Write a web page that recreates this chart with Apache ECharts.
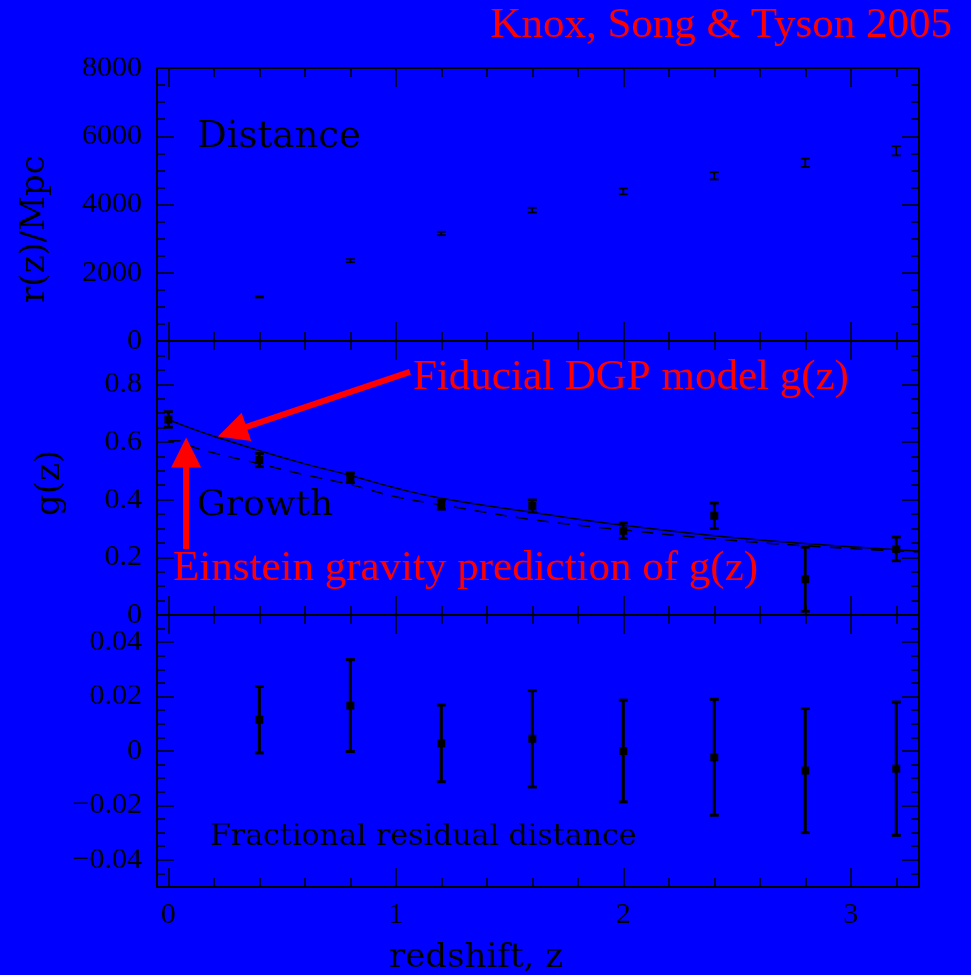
<!DOCTYPE html>
<html>
<head>
<meta charset="utf-8">
<script src="https://cdn.jsdelivr.net/npm/echarts@6/dist/echarts.min.js"></script>
<style>
  html, body { margin: 0; padding: 0; background: #0000ff; }
  #chart { width: 971px; height: 975px; }
</style>
</head>
<body>
<div id="chart"></div>
<script>
// Binned redshifts of the distance and residual measurements
const redshift = [0.4, 0.8, 1.2, 1.6, 2.0, 2.4, 2.8, 3.2];
// Comoving distance r(z) in Mpc with 1-sigma errors
const distance = [1291, 2353, 3151, 3834, 4383, 4840, 5222, 5574];
const distanceErr = [15, 45, 50, 70, 85, 105, 120, 135];
// Growth factor g(z) measurements
const growthZ = [0, 0.4, 0.8, 1.2, 1.6, 2.0, 2.4, 2.8, 3.2];
const growth = [0.678, 0.537, 0.476, 0.383, 0.378, 0.292, 0.344, 0.124, 0.229];
const growthErr = [0.027, 0.023, 0.017, 0.016, 0.021, 0.027, 0.044, 0.111, 0.041];
// Fractional residual of the distance
const residual = [0.0115, 0.0167, 0.0028, 0.0045, 0.0, -0.0023, -0.0072, -0.0065];
const residualErr = [0.0122, 0.0169, 0.0141, 0.0177, 0.0187, 0.0213, 0.0228, 0.0245];
// Model curves
const dgpZ = [0, 0.1, 0.2, 0.4, 0.6, 0.8, 1.0, 1.2, 1.6, 2.0, 2.4, 2.8, 3.2, 3.3];
const dgpGrowth = [0.678, 0.647, 0.620, 0.570, 0.524, 0.484, 0.440, 0.405, 0.356, 0.311, 0.275, 0.248, 0.226, 0.222];
const gravityZ = [0, 0.05, 0.1, 0.2, 0.4, 0.6, 0.8, 1.0, 1.2, 1.6, 2.0, 2.4, 2.8, 3.2, 3.3];
const gravityGrowth = [0.604, 0.604, 0.585, 0.562, 0.524, 0.486, 0.452, 0.410, 0.382, 0.331, 0.295, 0.264, 0.240, 0.222, 0.219];

// Tick values
const zMajor = [0, 1, 2, 3];
const zMinor = [0.2, 0.4, 0.6, 0.8, 1.2, 1.4, 1.6, 1.8, 2.2, 2.4, 2.6, 2.8, 3.2];
const distanceMajor = [0, 2000, 4000, 6000, 8000];
const distanceMinor = [500, 1000, 1500, 2500, 3000, 3500, 4500, 5000, 5500, 6500, 7000, 7500];
const growthMajor = [0, 0.2, 0.4, 0.6, 0.8];
const growthMinor = [0.05, 0.1, 0.15, 0.25, 0.3, 0.35, 0.45, 0.5, 0.55, 0.65, 0.7, 0.75, 0.85, 0.9];
const residualMajor = [-0.04, -0.02, 0, 0.02, 0.04];
const residualMinor = [-0.045, -0.035, -0.03, -0.025, -0.015, -0.01, -0.005, 0.005, 0.01, 0.015, 0.025, 0.03, 0.035, 0.045];

// Annotation arrows (data coordinates of the growth panel)
const arrowFrom = [[1.062, 0.843], [0.078, 0.229]];
const arrowTo = [[0.218, 0.619], [0.078, 0.6155]];

const BLACK = '#000000';
const RED = '#ff0000';
const NUM_FONT = 'Liberation Serif';
const LABEL_FONT = 'DejaVu Serif';

const grids = [
  { left: 157, width: 762, top: 68, height: 273 },
  { left: 157, width: 762, top: 341, height: 274 },
  { left: 157, width: 762, top: 615, height: 272 }
];

const panels = [
  { min: 0, max: 8000, major: distanceMajor, minor: distanceMinor,
    fmt: v => String(Math.round(v)) },
  { min: 0, max: 0.95, major: growthMajor, minor: growthMinor,
    fmt: v => (Math.abs(v) < 1e-9 ? '0' : v.toFixed(1)) },
  { min: -0.05, max: 0.05, major: residualMajor, minor: residualMinor,
    fmt: v => (Math.abs(v) < 1e-9 ? '0' : (v < 0 ? '\u2212' : '') + Math.abs(v).toFixed(2)) }
];

function xAxisDef(g, position, ticks, len, showLine, showLabels) {
  return {
    type: 'value', gridIndex: g, position: position, min: -0.05, max: 3.3,
    axisLine: { show: showLine, onZero: false, lineStyle: { color: BLACK, width: 2 } },
    axisTick: { show: true, inside: true, length: len, customValues: ticks,
      lineStyle: { color: BLACK, width: 1.5 } },
    axisLabel: { show: showLabels, customValues: ticks, margin: 13, color: BLACK,
      fontFamily: NUM_FONT, fontSize: 30, formatter: v => String(v) },
    splitLine: { show: false }, minorTick: { show: false }
  };
}

function yAxisDef(g, position, ticks, len, showLine, showLabels) {
  const p = panels[g];
  return {
    type: 'value', gridIndex: g, position: position, min: p.min, max: p.max,
    axisLine: { show: showLine, onZero: false, lineStyle: { color: BLACK, width: 2 } },
    axisTick: { show: true, inside: true, length: len, customValues: ticks,
      lineStyle: { color: BLACK, width: 1.5 } },
    axisLabel: { show: showLabels, customValues: ticks, margin: 15, color: BLACK,
      fontFamily: NUM_FONT, fontSize: 30, formatter: p.fmt },
    splitLine: { show: false }, minorTick: { show: false }
  };
}

const xAxes = [];
const yAxes = [];
for (let g = 0; g < 3; g++) {
  const p = panels[g];
  xAxes.push(xAxisDef(g, 'bottom', zMajor, 19, true, g === 2));
  xAxes.push(xAxisDef(g, 'bottom', zMinor, 9, false, false));
  xAxes.push(xAxisDef(g, 'top', zMajor, 19, true, false));
  xAxes.push(xAxisDef(g, 'top', zMinor, 9, false, false));
  yAxes.push(yAxisDef(g, 'left', p.major, 17, true, true));
  yAxes.push(yAxisDef(g, 'left', p.minor, 8, false, false));
  yAxes.push(yAxisDef(g, 'right', p.major, 17, true, false));
  yAxes.push(yAxisDef(g, 'right', p.minor, 8, false, false));
}

function errorBarRenderer(capHalf, lineW, square) {
  return function (params, api) {
    const x = api.value(0), y = api.value(1), e = api.value(2);
    const hi = api.coord([x, y + e]);
    const lo = api.coord([x, y - e]);
    const mid = api.coord([x, y]);
    const st = { stroke: BLACK, lineWidth: lineW, fill: null };
    const children = [
      { type: 'line', shape: { x1: hi[0], y1: hi[1], x2: lo[0], y2: lo[1] }, style: st },
      { type: 'line', shape: { x1: hi[0] - capHalf, y1: hi[1], x2: hi[0] + capHalf, y2: hi[1] }, style: st },
      { type: 'line', shape: { x1: lo[0] - capHalf, y1: lo[1], x2: lo[0] + capHalf, y2: lo[1] }, style: st }
    ];
    if (square) {
      children.push({ type: 'rect',
        shape: { x: mid[0] - square / 2, y: mid[1] - square / 2, width: square, height: square },
        style: { fill: BLACK } });
    }
    return { type: 'group', children: children };
  };
}

function arrowRenderer(params, api) {
  const p0 = api.coord([api.value(0), api.value(1)]);
  const p1 = api.coord([api.value(2), api.value(3)]);
  const dx = p1[0] - p0[0], dy = p1[1] - p0[1];
  const L = Math.hypot(dx, dy);
  const ux = dx / L, uy = dy / L;
  const head = 30, half = 15;
  const bx = p1[0] - ux * head, by = p1[1] - uy * head;
  return {
    type: 'group',
    children: [
      { type: 'line', shape: { x1: p0[0], y1: p0[1], x2: bx + ux * 3, y2: by + uy * 3 },
        style: { stroke: RED, lineWidth: 6 } },
      { type: 'polygon',
        shape: { points: [[p1[0], p1[1]], [bx - uy * half, by + ux * half], [bx + uy * half, by - ux * half]] },
        style: { fill: RED } }
    ]
  };
}

const zip3 = (a, b, c) => a.map((v, i) => [v, b[i], c[i]]);
const zip2 = (a, b) => a.map((v, i) => [v, b[i]]);

const series = [
  { type: 'custom', name: 'distance', xAxisIndex: 0, yAxisIndex: 0, z: 5,
    renderItem: errorBarRenderer(4.5, 1.8, 0),
    data: zip3(redshift, distance, distanceErr) },
  { type: 'line', name: 'DGP', xAxisIndex: 4, yAxisIndex: 4, smooth: true, showSymbol: false,
    symbol: 'none', lineStyle: { color: BLACK, width: 1.5 }, data: zip2(dgpZ, dgpGrowth), z: 3 },
  { type: 'line', name: 'GR', xAxisIndex: 4, yAxisIndex: 4, smooth: true, showSymbol: false,
    symbol: 'none', lineStyle: { color: BLACK, width: 1.5, type: [12, 9] },
    data: zip2(gravityZ, gravityGrowth), z: 3 },
  { type: 'custom', name: 'growth', xAxisIndex: 4, yAxisIndex: 4, z: 5,
    renderItem: errorBarRenderer(4.5, 2.8, 8),
    data: zip3(growthZ, growth, growthErr) },
  { type: 'custom', name: 'arrows', xAxisIndex: 4, yAxisIndex: 4, z: 6, clip: false,
    renderItem: arrowRenderer,
    data: arrowFrom.map((f, i) => [f[0], f[1], arrowTo[i][0], arrowTo[i][1]]) },
  { type: 'custom', name: 'residual', xAxisIndex: 8, yAxisIndex: 8, z: 5,
    renderItem: errorBarRenderer(4.5, 3, 8),
    data: zip3(redshift, residual, residualErr) }
];

function label(text, x, y, size, family, color, align, rotation) {
  return {
    type: 'text', x: x, y: y, rotation: rotation || 0, z: 10,
    style: {
      text: text, fill: color, fontSize: size, fontFamily: family,
      textAlign: align, textVerticalAlign: 'middle', verticalAlign: 'middle'
    }
  };
}

const chart = echarts.init(document.getElementById('chart'), null, { renderer: 'canvas' });
chart.setOption({
  backgroundColor: '#0000ff',
  animation: false,
  grid: grids.map(g => Object.assign({ outerBoundsMode: 'none' }, g)),
  xAxis: xAxes,
  yAxis: yAxes,
  series: series,
  graphic: [
    label('Knox, Song & Tyson 2005', 952, 26, 43, NUM_FONT, RED, 'right'),
    label('Fiducial DGP model g(z)', 413, 378, 43, NUM_FONT, RED, 'left'),
    label('Einstein gravity prediction of g(z)', 173, 569, 43, NUM_FONT, RED, 'left'),
    label('Distance', 197, 137, 37, LABEL_FONT, BLACK, 'left'),
    label('Growth', 197, 506, 36, LABEL_FONT, BLACK, 'left'),
    label('Fractional residual distance', 210, 837, 30, LABEL_FONT, BLACK, 'left'),
    label('redshift, z', 476, 958, 34, LABEL_FONT, BLACK, 'center'),
    label('r(z)/Mpc', 35, 229, 34, LABEL_FONT, BLACK, 'center', Math.PI / 2),
    label('g(z)', 50, 483, 34, LABEL_FONT, BLACK, 'center', Math.PI / 2)
  ]
});
</script>
</body>
</html>
